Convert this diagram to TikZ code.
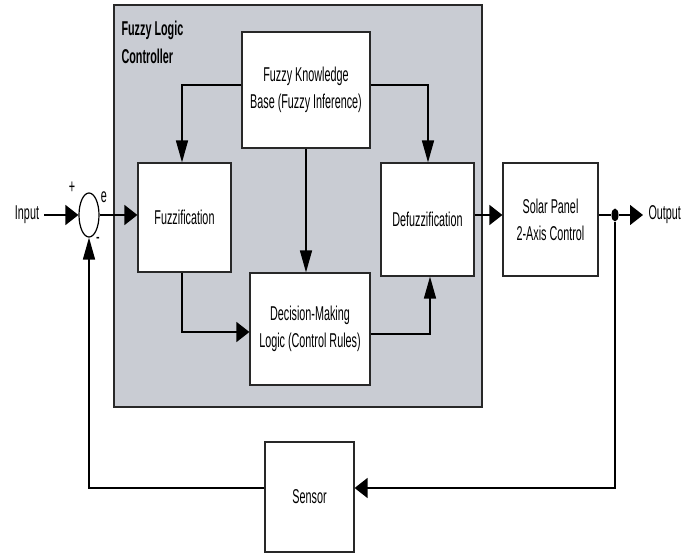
\documentclass[tikz,border=0pt]{standalone}
\usepackage{fontspec}
\setmainfont{Liberation Sans}[FakeStretch=0.54]
\usetikzlibrary{positioning,shapes.geometric,arrows.meta}
\definecolor{flcgray}{RGB}{201,204,211}
\definecolor{boxline}{RGB}{40,40,40}
\begin{document}
\begin{tikzpicture}[%
x=1pt,y=-1pt,
font=\fontsize{20}{27}\selectfont,
harrow/.style={-{Triangle[length=13pt,width=20pt]},line width=1.5pt},
varrow/.style={-{Triangle[length=22pt,width=12pt]},line width=1.5pt},
wire/.style={line width=1.5pt},
blk/.style={
draw=boxline,
line width=1.2pt,
fill=white,
align=center,
inner sep=2pt,}
]
\useasboundingbox (0,0) rectangle (683,553);
% controller frame
\draw[boxline,line width=1.2pt,fill=flcgray] (114,5) rectangle (482,407);
\node[anchor=north west,align=left,font=\fontsize{20}{28}\selectfont\bfseries] (flc) at (118,17) {Fuzzy Logic\\Controller};
% blocks
\node[blk,minimum width=128,minimum height=116] (kb) at (306,90) {Fuzzy Knowledge\\Base (Fuzzy Inference)};
\node[blk,minimum width=93,minimum height=109] (fuzz) at (184.5,217.5) {Fuzzification};
\node[blk,minimum width=93,minimum height=113] (defuzz) at (427.5,219.5) {Defuzzification};
\node[blk,minimum width=120,minimum height=112] (dml) at (310,329) {Decision-Making\\Logic (Control Rules)};
\node[blk,minimum width=95,minimum height=113] (solar) at (550.5,219.5) {Solar Panel\\2-Axis Control};
\node[blk,minimum width=89,minimum height=110] (sensor) at (309.5,497) {Sensor};
\node[draw,line width=1.2pt,ellipse,fill=white,minimum width=20,minimum height=44,inner sep=0pt] (sum) at (89,215) {};
\node[fill=black,ellipse,minimum width=7,minimum height=13,inner sep=0pt] (tap) at (615,215) {};
% texts
\node (in) at (27,215) {Input};
\node[anchor=west] (out) at (645,215) {Output};
\node (plus) at (72,188) {+};
\node (err) at (104,197) {e};
\node (minus) at (98,240) {-};
\coordinate (inend) at (44,215);
\coordinate (outend) at (643,215);
% connectors
\draw[harrow] (inend) -- (sum.west);
\draw[harrow] (sum.east) -- (sum.east -| fuzz.west);
\draw[varrow] (kb.west |- 0,85) -| (fuzz.north -| 182,0);
\draw[varrow] (kb.east |- 0,85) -| (defuzz.north -| 428,0);
\draw[varrow] (kb.south) -- (kb.south |- dml.north);
\draw[harrow] (fuzz.south -| 182,0) |- (dml.west |- 0,332);
\draw[varrow] (dml.east |- 0,334) -| (defuzz.south -| 430,0);
\draw[harrow] (defuzz.east |- 0,215) -- (solar.west |- 0,215);
\draw[wire] (solar.east |- 0,215) -- (tap);
\draw[harrow] (tap) -- (outend);
\draw[harrow] (tap) |- (sensor.east |- 0,488);
\draw[varrow] (sensor.west |- 0,488) -| (sum.south);
\end{tikzpicture}
\end{document}
